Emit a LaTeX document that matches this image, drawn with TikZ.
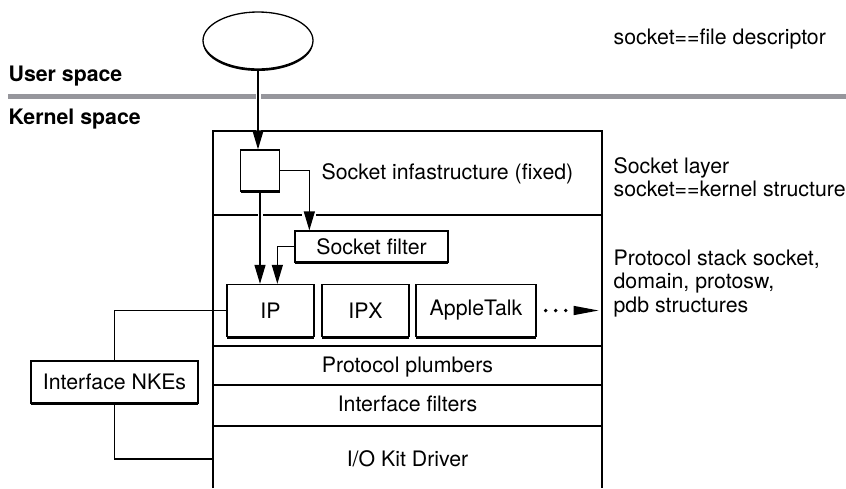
\documentclass[tikz,border=0pt]{standalone}
\usepackage{fontspec}
\setmainfont{TeX Gyre Heros}
\usetikzlibrary{arrows.meta,shapes.geometric,shadows}
\definecolor{sepgray}{RGB}{150,150,156}
\begin{document}
\begin{tikzpicture}[x=1pt,y=-1pt,line width=1.3pt,
  every node/.style={font=\fontsize{21.3}{23.5}\selectfont,inner sep=0pt},
  box/.style={draw,fill=white,drop shadow={shadow xshift=0pt,shadow yshift=-2pt,fill=black,opacity=1}},
  tip/.style={-{Triangle[length=19pt,width=11pt]}},
  halo/.style={preaction={draw=white,line width=#1,-,shorten <=4pt,shorten >=6pt}},halo/.default=5pt]
  \useasboundingbox (0,0) rectangle (846,488);
  \draw (213,488) |- (602,131) -- (602,488);
  \foreach \y in {215,346,385,426} \draw (213,\y) -- (602,\y);
  \node[box,ellipse,minimum width=110,minimum height=57] (app) at (258,40.5) {};
  \node[box,minimum width=39,minimum height=41] (sock) at (260,170.5) {};
  \node[box,minimum width=153,minimum height=31] (filter) at (371.5,246.5) {Socket filter};
  \foreach \n/\x/\w/\t in {ip/270.5/87/IP,ipx/365.5/87/IPX,atalk/476/120/AppleTalk}
    \node[box,minimum width=\w,minimum height=52] (\n) at (\x,310.5) {\t};
  \node[box,minimum width=167,minimum height=42] (nke) at (114.5,382) {Interface NKEs};
  \node[anchor=base west] (infra) at (321,179) {Socket infastructure (fixed)};
  \node[anchor=base] (plumb) at (407.5,372.7) {Protocol plumbers};
  \node[anchor=base] (iff) at (407.5,411.7) {Interface filters};
  \node[anchor=base] (drv) at (407.5,466.7) {I/O Kit Driver};
  \node[anchor=base west,font=\fontsize{21.3}{23.5}\selectfont\bfseries] (user) at (8,81.5) {User space};
  \node[anchor=base west,font=\fontsize{21.3}{23.5}\selectfont\bfseries] (kern) at (8,124) {Kernel space};
  \node[anchor=base west] (fd) at (613,44.5) {socket==file descriptor};
  \node[anchor=base west,align=left] (layer) at (613,196.5) {Socket layer\\socket==kernel structure};
  \node[anchor=base west,align=left] (stack) at (613,312) {Protocol stack socket,\\domain, protosw,\\pdb structures};
  \coordinate (sepl) at (8,96);
  \coordinate (sepr) at (846,96);
  \coordinate (kdrv) at (213,459);
  \coordinate (pend) at ([xshift=62pt]atalk.east);
  \draw[sepgray,line width=5pt] (sepl) -- (sepr);
  \draw[tip,halo] (app.south) -- (app.south |- sock.north);
  \draw[tip,halo=14pt] (sock.east) -| ([xshift=15pt]filter.north west);
  \draw[tip,halo] (sock.south) -- (sock.south |- ip.north);
  \draw[tip] (filter.west) -| ([xshift=51pt]ip.north west);
  \draw (nke.north) |- (ip.west);
  \draw (nke.south) |- (kdrv);
  \draw[line width=3.8pt,line cap=round,dash pattern=on 0pt off 10pt] ([xshift=9pt]atalk.east) -- ([xshift=29.5pt]atalk.east);
  \draw[-{Triangle[length=25pt,width=9pt]}] ([xshift=37pt]atalk.east) -- (pend);
\end{tikzpicture}
\end{document}
